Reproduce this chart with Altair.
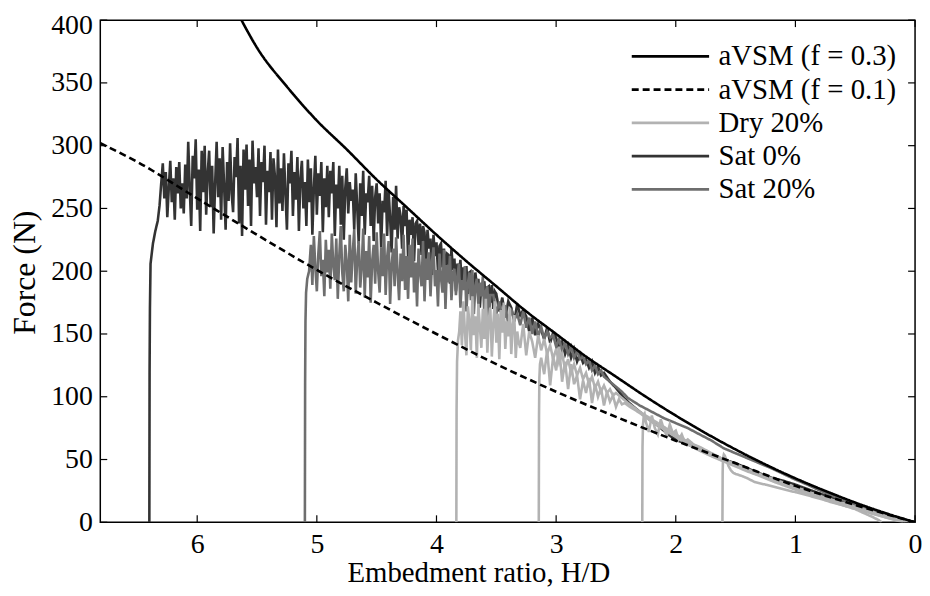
import altair as alt
import pandas as pd

# ---------------- data ----------------
series_names = ["aVSM (f = 0.3)", "aVSM (f = 0.1)", "Dry 20%", "Sat 0%", "Sat 20%"]
series_colors = ["#000000", "#000000", "#b2b2b2", "#333333", "#6e6e6e"]
series_dash = [[1, 0], [7, 4], [1, 0], [1, 0], [1, 0]]
series_widths = [2.6, 2.6, 1.0, 1.0, 1.0]

x_ticks = [0, 1, 2, 3, 4, 5, 6]
y_ticks = [0, 50, 100, 150, 200, 250, 300, 350, 400]

avsm03_h = [0, 0.25, 0.5, 0.75, 1.0, 1.25, 1.5, 1.75, 2.0, 2.25, 2.5, 2.75, 3.0,
            3.25, 3.5, 3.75, 4.0, 4.25, 4.5, 4.75, 5.0, 5.25, 5.5, 5.63]
avsm03_f = [0, 7.4, 15.7, 25, 35, 46, 58, 71, 85, 100, 116, 132, 150,
            168, 188, 208, 229, 251, 273, 297, 320, 347, 378, 400]

avsm01_h = [0, 0.25, 0.5, 0.75, 1.0, 1.5, 2.0, 2.5, 3.0, 3.5, 4.0, 4.5, 5.0,
            5.5, 6.0, 6.5, 6.81]
avsm01_f = [0, 6.8, 13.8, 21.2, 29, 47, 65, 84, 104, 126, 150, 175, 201,
            229, 258, 287, 302]

fine_step = 0.0125
coarse_step = 0.025

# Sat 0%
sat0_rise_h = [6.400, 6.398, 6.395, 6.390, 6.370, 6.350, 6.330, 6.315]
sat0_rise_f = [0, 120, 171, 206, 222, 232, 240, 252]
sat0_fine_start = 6.300
sat0_fine_f = [
    271, 286, 258, 279, 243, 266, 288, 255, 274, 241, 283, 262, 287, 250, 270, 246,
    285, 258, 303, 266, 236, 292, 274, 305, 249, 281, 232, 296, 263, 300, 245, 278,
    296, 251, 284, 230, 270, 303, 259, 290, 241, 299, 268, 233, 287, 256, 302, 262,
    247, 291, 275, 306, 238, 284, 228, 297, 265, 301, 252, 289, 236, 304, 270, 283,
    259, 298, 244, 287, 271, 300, 237, 280, 263, 295, 241, 290, 275, 235, 297, 254,
    282, 248, 294, 262, 233, 286, 270, 296, 244, 279, 257, 291, 232, 274, 288, 250,
    271, 236, 289, 255, 282, 229, 266, 292, 245, 278, 260, 287, 231, 274, 251, 284,
    243, 280, 262, 287, 228, 269, 250, 284, 237, 276, 225, 266, 282, 246, 271, 256,
    265, 233, 278, 251, 222, 270, 244, 280, 229, 262, 255, 276, 236, 268, 224, 259,
    270, 238, 262, 219, 256, 247, 272, 228, 264, 242, 215, 259, 233, 268, 226, 251,
    244, 218, 252, 236, 249, 211, 241, 229, 243, 208, 238, 240, 221, 238, 213, 236,
    231, 204, 233, 218, 226, 197, 229, 212, 223, 200, 220, 222, 203, 218, 196, 214,
    213, 190, 218, 201, 210, 184, 206, 197, 209, 186, 203, 192, 204, 182, 199, 200,
    196, 176, 199, 188, 194, 171, 190, 183, 192, 172, 187, 188, 175, 189, 170, 184]
sat0_coarse_start = 3.500
sat0_coarse_f = [
    182, 168, 179, 163, 176, 171, 160, 174, 165, 169,
    164, 152, 163, 149, 158, 153, 146, 155, 143, 151,
    147, 138, 144, 134, 141, 131, 138, 128, 134, 127,
    130, 123, 128, 119, 124, 117, 119]
sat0_tail_h = [2.55, 2.5, 2.45, 2.4, 2.34, 2.25, 2.15, 2.05, 1.98, 1.9, 1.84, 1.7,
               1.6, 1.5, 1.4, 1.3, 1.2, 1.1, 1.0, 0.9, 0.8, 0.7, 0.6, 0.5, 0.4,
               0.3, 0.2, 0.1, 0.03, 0.0]
sat0_tail_f = [112, 107, 101, 96, 91, 84, 77, 69, 65, 62, 60, 54,
               50, 47, 43, 39, 35.5, 33, 30, 26.5, 23, 20, 17, 14, 10.5,
               7.5, 4.8, 2.2, 0.5, 0]

# Sat 20%
sat20_rise_h = [5.100, 5.098, 5.095, 5.090, 5.080, 5.065]
sat20_rise_f = [0, 110, 160, 183, 194, 200]
sat20_fine_start = 5.050
sat20_fine_f = [
    221, 189, 228, 203, 184, 214, 232, 196, 209, 180, 225, 199, 217, 186, 230, 205,
    193, 226, 178, 212, 236, 199, 184, 221, 207, 176, 229, 191, 215, 233, 182, 210,
    224, 187, 203, 234, 179, 216, 195, 228, 175, 208, 221, 190, 231, 200, 183, 219,
    196, 230, 181, 211, 224, 174, 205, 218, 188, 227, 199, 177, 214, 192, 229, 185,
    212, 178, 221, 195, 226, 183, 207, 172, 218, 199, 188, 224, 176, 210, 193, 215,
    180, 208, 219, 188, 201, 172, 214, 195, 183, 217, 170, 205, 191, 212, 177, 199,
    202, 181, 196, 206, 171, 193, 185, 204, 168, 190, 199, 177, 201, 166, 188, 194,
    173, 191, 180, 196, 165, 184, 188, 162, 181]
sat20_coarse_start = 3.525
sat20_coarse_f = [
    181, 166, 176, 162, 173, 158, 170, 161, 166, 157,
    168, 155, 163, 150, 160, 148, 156, 146, 152, 147,
    149, 140, 146, 137, 143, 134, 140, 131, 136, 130,
    132, 126, 129, 121, 125, 118, 121, 116]
sat20_tail_h = [2.55, 2.5, 2.45, 2.4, 2.35, 2.3, 2.2, 2.1, 2.0, 1.9, 1.8, 1.7,
                1.6, 1.5, 1.4, 1.3, 1.2, 1.1, 1.0, 0.9, 0.8, 0.7, 0.6, 0.5,
                0.4, 0.3, 0.2, 0.1, 0.03, 0.0]
sat20_tail_f = [112, 108, 104, 99, 96, 93, 88, 83, 79, 75, 70, 65,
                59, 55, 51, 47, 43, 38.5, 34, 30, 25.5, 21.5, 17.5, 14,
                10.5, 7.5, 4.5, 2, 0.5, 0]

# Dry 20% (four tests)
dryA_rise_h = [3.834, 3.832, 3.828, 3.820, 3.810]
dryA_rise_f = [0, 90, 128, 145, 152]
dryA_fine_start = 3.800
dryA_fine_f = [
    168, 141, 176, 152, 133, 172, 160, 137, 180, 149, 164, 131, 174, 156, 139, 170,
    146, 178, 135, 162, 171, 132, 158, 176, 143, 166, 130, 169, 151, 175, 138, 160,
    148, 171, 134, 157, 165, 131, 152, 143]
dryA_coarse_start = 3.300
dryA_coarse_f = [
    139, 158, 133, 152, 144, 131, 149, 137, 146, 134,
    141, 130, 138, 127, 134, 122, 130, 119, 126, 117,
    123, 114, 119, 110, 116, 107, 112, 104, 109, 103,
    106, 101, 103]
dryA_tail_h = [2.45, 2.4, 2.3, 2.2, 2.1, 2.0, 1.9, 1.8, 1.7, 1.6, 1.5, 1.4, 1.3,
               1.2, 1.1, 1.0, 0.9, 0.8, 0.7, 0.6, 0.5, 0.4, 0.3, 0.2, 0.12, 0.08]
dryA_tail_f = [99, 95, 88, 82, 76, 70, 64, 59, 54, 50, 46, 42, 38,
               34.5, 31, 27.5, 24, 20.5, 17.5, 14.5, 11.5, 8.5, 5.5, 3, 1, 0]

dryB_rise_h = [3.145, 3.143, 3.140, 3.135, 3.125]
dryB_rise_f = [0, 85, 115, 126, 131]
dryB_coarse_start = 3.100
dryB_coarse_f = [
    118, 137, 109, 132, 121, 140, 112, 128, 106, 126,
    110, 117, 98, 113, 103, 115, 95, 110, 100, 107,
    93, 104, 96, 101, 92, 98, 94, 95]
dryB_tail_h = [2.4, 2.3, 2.2, 2.1, 2.0, 1.9, 1.8, 1.7, 1.6, 1.5, 1.4, 1.3, 1.2,
               1.1, 1.0, 0.8, 0.6, 0.4, 0.25, 0.15, 0.1]
dryB_tail_f = [93, 87, 80, 74, 68, 62, 57, 52.5, 48.5, 44.5, 40.5, 37, 33,
               29.5, 26, 19.5, 13.5, 8, 4, 1.5, 0]

dryC_rise_h = [2.280, 2.278, 2.274, 2.268, 2.260]
dryC_rise_f = [0, 60, 78, 84, 86]
dryC_coarse_start = 2.250
dryC_coarse_f = [80, 72, 85, 75, 70, 82, 74, 69, 78, 71, 73, 66, 70, 64, 66]
dryC_tail_h = [1.85, 1.8, 1.7, 1.6, 1.5, 1.4, 1.3, 1.2, 1.1, 1.0, 0.8, 0.6,
               0.4, 0.25, 0.12, 0.05]
dryC_tail_f = [62, 60, 55, 50, 46, 42, 38.5, 35, 31.5, 28, 21, 15,
               9.5, 5, 1.5, 0]

dryD_h = [1.61, 1.608, 1.605, 1.598, 1.59, 1.575, 1.56, 1.54, 1.52, 1.5, 1.45,
          1.4, 1.34, 1.25, 1.15, 1.0, 0.9, 0.8, 0.7, 0.6, 0.5, 0.42, 0.35,
          0.3, 0.28]
dryD_f = [0, 40, 51, 54, 53, 49, 45, 41.5, 39.5, 38.5, 37,
          35, 32, 30, 27.5, 24, 21.5, 19, 16, 13.5, 10.5, 7, 4,
          1.5, 0]

# ---------------- build the tables ----------------
rows = []


def add(series, test, hs, fs):
    for i, (h, f) in enumerate(zip(hs, fs)):
        rows.append({"series": series, "test": test, "idx": i, "h": h, "f": f})


def grid(start, step, n):
    # sampling positions of a recorded trace
    return [round(start - step * i, 5) for i in range(n)]


add("aVSM (f = 0.3)", "m3", avsm03_h, avsm03_f)
add("aVSM (f = 0.1)", "m1", avsm01_h, avsm01_f)
add("Sat 0%", "s0",
    sat0_rise_h + grid(sat0_fine_start, fine_step, len(sat0_fine_f))
    + grid(sat0_coarse_start, coarse_step, len(sat0_coarse_f)) + sat0_tail_h,
    sat0_rise_f + sat0_fine_f + sat0_coarse_f + sat0_tail_f)
add("Sat 20%", "s20",
    sat20_rise_h + grid(sat20_fine_start, fine_step, len(sat20_fine_f))
    + grid(sat20_coarse_start, coarse_step, len(sat20_coarse_f)) + sat20_tail_h,
    sat20_rise_f + sat20_fine_f + sat20_coarse_f + sat20_tail_f)
add("Dry 20%", "dA",
    dryA_rise_h + grid(dryA_fine_start, fine_step, len(dryA_fine_f))
    + grid(dryA_coarse_start, coarse_step, len(dryA_coarse_f)) + dryA_tail_h,
    dryA_rise_f + dryA_fine_f + dryA_coarse_f + dryA_tail_f)
add("Dry 20%", "dB",
    dryB_rise_h + grid(dryB_coarse_start, coarse_step, len(dryB_coarse_f)) + dryB_tail_h,
    dryB_rise_f + dryB_coarse_f + dryB_tail_f)
add("Dry 20%", "dC",
    dryC_rise_h + grid(dryC_coarse_start, coarse_step, len(dryC_coarse_f)) + dryC_tail_h,
    dryC_rise_f + dryC_coarse_f + dryC_tail_f)
add("Dry 20%", "dD", dryD_h, dryD_f)

df = pd.DataFrame(rows)
xt_df = pd.DataFrame({"h": x_ticks})
yt_df = pd.DataFrame({"f": y_ticks})

FONT = "Liberation Serif"
FS = 28
TFS = 29
YTFS = 32
TICK_LEN = 7
PLOT_W = 821
PLOT_H = 506

xscale = alt.Scale(domain=[0, 6.81], reverse=True, nice=False, zero=False)
yscale = alt.Scale(domain=[0, 400], nice=False)

legend = alt.Legend(
    orient="none", legendX=560, legendY=22, title=None,
    labelFont=FONT, labelFontSize=TFS, labelColor="black", labelLimit=400,
    symbolType="M-5,0H5", symbolSize=243, labelOffset=34,
    rowPadding=3.5, padding=0, symbolFillColor="transparent",
)

color_enc = alt.Color("series:N", scale=alt.Scale(domain=series_names, range=series_colors), legend=legend)
dash_enc = alt.StrokeDash("series:N", scale=alt.Scale(domain=series_names, range=series_dash), legend=legend)
width_enc = alt.StrokeWidth("series:N", scale=alt.Scale(domain=series_names, range=series_widths), legend=legend)

label_x_axis = alt.Axis(orient="bottom", values=x_ticks, ticks=False, domain=False, grid=False,
                        labelFont=FONT, labelFontSize=FS, labelColor="black", labelPadding=8,
                        labelFlush=False,
                        title="Embedment ratio, H/D", titleFont=FONT, titleFontSize=TFS,
                        titleFontWeight="normal", titleColor="black",
                        titleX=381, titleY=60, titleBaseline="alphabetic", format="d")
label_y_axis = alt.Axis(orient="left", values=y_ticks[:-1], ticks=False, domain=False, grid=False,
                        labelFont=FONT, labelFontSize=FS, labelColor="black", labelPadding=8,
                        title="Force (N)", titleFont=FONT, titleFontSize=YTFS,
                        titleFontWeight="normal", titleColor="black",
                        titleX=-76, titleY=254, titleBaseline="middle")
top_label_y_axis = alt.Axis(orient="left", values=y_ticks[-1:], ticks=False, domain=False, grid=False,
                            labelFont=FONT, labelFontSize=FS, labelColor="black", labelPadding=8,
                            labelOffset=5, title="")


def series_layer(name, xaxis=None, yaxis=None, smooth=False):
    mark_kwargs = {"clip": True}
    if smooth:
        mark_kwargs["interpolate"] = "monotone"
    return alt.Chart(df).transform_filter(alt.datum.series == name).mark_line(**mark_kwargs).encode(
        x=alt.X("h:Q", scale=xscale, axis=xaxis),
        y=alt.Y("f:Q", scale=yscale, axis=yaxis),
        color=color_enc, strokeDash=dash_enc, strokeWidth=width_enc,
        detail="test:N", order="idx:Q",
    )


# inward tick marks on all four sides of the box, placed by the shared scales
tick_style = dict(color="black", strokeWidth=1.2)
x_tick_pos = alt.X("h:Q", scale=xscale, axis=None)
y_tick_pos = alt.Y("f:Q", scale=yscale, axis=None)
ticks_bottom = alt.Chart(xt_df).mark_rule(**tick_style).encode(
    x=x_tick_pos, y=alt.value(PLOT_H), y2=alt.value(PLOT_H - TICK_LEN))
ticks_top = alt.Chart(xt_df).mark_rule(**tick_style).encode(
    x=x_tick_pos, y=alt.value(0), y2=alt.value(TICK_LEN))
ticks_left = alt.Chart(yt_df).mark_rule(**tick_style).encode(
    y=y_tick_pos, x=alt.value(0), x2=alt.value(TICK_LEN))
ticks_right = alt.Chart(yt_df).mark_rule(**tick_style).encode(
    y=y_tick_pos, x=alt.value(PLOT_W), x2=alt.value(PLOT_W - TICK_LEN))

chart = alt.layer(
    ticks_bottom, ticks_top, ticks_left, ticks_right,
    series_layer("Sat 0%", label_x_axis, label_y_axis),
    series_layer("Sat 20%"),
    series_layer("Dry 20%"),
    series_layer("aVSM (f = 0.1)", None, top_label_y_axis, smooth=True),
    series_layer("aVSM (f = 0.3)", smooth=True),
).resolve_axis(x="independent", y="independent").properties(
    width=PLOT_W, height=PLOT_H,
    autosize=alt.AutoSizeParams(type="none"),
    padding={"left": 93, "top": 10, "right": 7, "bottom": 66},
    background="white",
).configure_view(stroke="black", strokeWidth=1.5)

chart.save("out.html", embed_options={"renderer": "svg", "actions": False})
